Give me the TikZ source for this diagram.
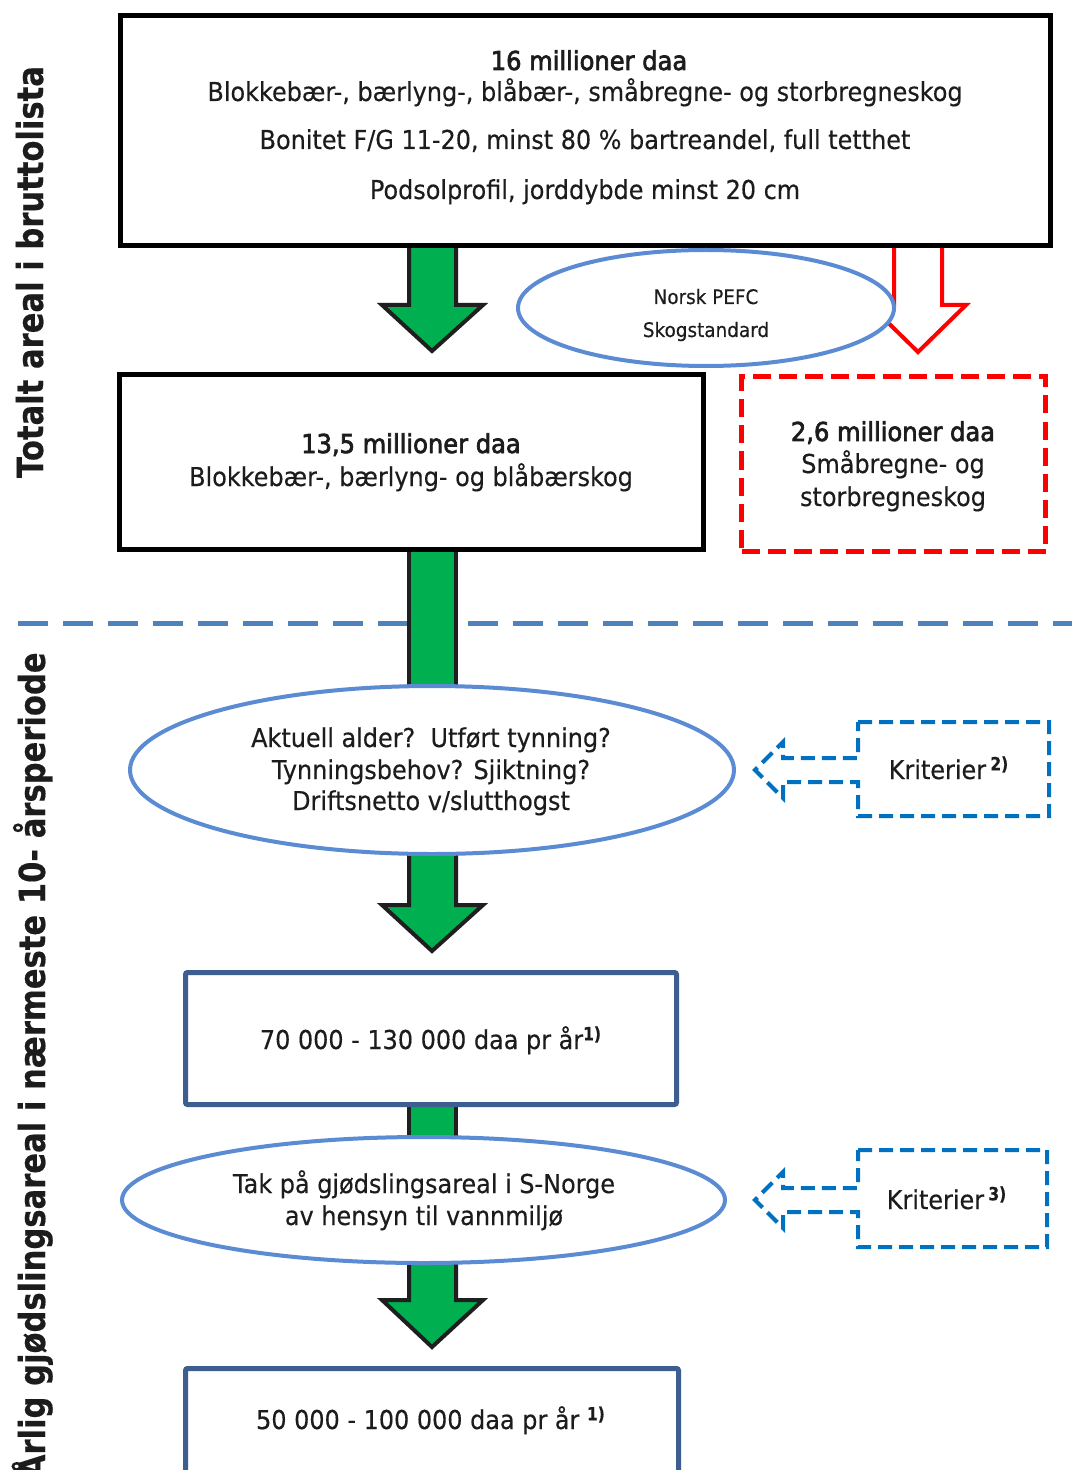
\documentclass[tikz,border=0pt]{standalone}
\usepackage{fontspec}
\setmainfont[FakeStretch=0.92,FakeBold=0.35,BoldFeatures={FakeStretch=0.85}]{DejaVu Sans}
\newfontfamily\semib[FakeStretch=0.93,FakeBold=2.6]{DejaVu Sans}
\usetikzlibrary{shapes.geometric}
\definecolor{gGreen}{HTML}{00B050}
\definecolor{eBlue}{HTML}{5A8BD3}
\definecolor{hBlue}{HTML}{4F81BD}
\definecolor{bBlue}{HTML}{3D5F8F}
\definecolor{kBlue}{HTML}{0070C0}
\definecolor{txtc}{HTML}{1C1C1C}
\begin{document}
\begin{tikzpicture}[x=0.5pt,y=-0.5pt,
  txt/.style={font=\fontsize{13}{15}\selectfont, text=txtc, inner sep=0pt, anchor=base},
  hd/.style={txt, font=\semib\fontsize{13}{15}\selectfont},
  small/.style={txt, font=\fontsize{10}{12}\selectfont},
  side/.style={font=\fontsize{18}{20}\selectfont\bfseries, text=txtc, inner sep=0pt, rotate=90},
  blk/.style={rectangle, draw=black, line width=2.5pt, fill=white, inner sep=0pt},
  bluebox/.style={rectangle, draw=bBlue, line width=2.5pt, fill=white, inner sep=0pt, rounded corners=1pt},
  redbox/.style={rectangle, draw=red, line width=2.5pt, dash pattern=on 9pt off 4pt, inner sep=0pt},
  ell/.style={ellipse, draw=eBlue, line width=2pt, fill=white, inner sep=0pt},
  greenar/.style={fill=gGreen, draw=black!88, line width=2pt, line join=miter},
  redar/.style={fill=white, draw=red, line width=2pt, line join=miter},
  callout/.style={draw=kBlue, line width=2pt, dash pattern=on 7pt off 3.5pt},
  hline/.style={draw=hBlue, line width=2.5pt, dash pattern=on 15pt off 7.5pt}
]
\useasboundingbox (0,0) rectangle (1072,1470);
\clip (0,0) rectangle (1072,1470);
\fill[white] (0,0) rectangle (1072,1470);

% separator line
\coordinate (hl1) at (18,623);
\coordinate (hl2) at (1072,623);
\draw[hline] (hl1) -- (hl2);

% green arrows and bars (drawn first, covered at ends by boxes/ellipses)
\draw[greenar] (409,240) -- (409,305) -- (382,305) -- (432,351) -- (483,305) -- (456,305) -- (456,240) -- cycle;
\draw[greenar] (409,548) rectangle (456,710);
\draw[greenar] (409,840) -- (409,905) -- (382,905) -- (432,951) -- (483,905) -- (456,905) -- (456,840) -- cycle;
\draw[greenar] (409,1100) rectangle (456,1160);
\draw[greenar] (409,1250) -- (409,1300) -- (382,1300) -- (432,1347) -- (483,1300) -- (456,1300) -- (456,1250) -- cycle;

% red hollow arrow
\draw[redar] (894,240) -- (894,305) -- (870,305) -- (918,352) -- (966,305) -- (942,305) -- (942,240) -- cycle;

% boxes and ellipses
\node[blk, minimum width=465pt, minimum height=115pt] (top) at (585,131) {};
\node[ell, minimum width=188pt, minimum height=58pt] (pefc) at (706,308) {};
\node[blk, minimum width=292pt, minimum height=87pt] (b2) at (411,462) {};
\node[redbox, minimum width=152pt, minimum height=87.5pt] (rb) at (893.5,464) {};
\node[ell, minimum width=302pt, minimum height=84pt] (e2) at (432,770) {};
\node[bluebox, minimum width=245.5pt, minimum height=66pt] (b3) at (431,1038.5) {};
\node[ell, minimum width=301.5pt, minimum height=63pt] (e3) at (423.5,1200) {};
\node[bluebox, minimum width=246.5pt, minimum height=70pt] (b4) at (432,1438.5) {};

% criteria callouts
\draw[callout] (858,722) -- (1049,722) -- (1049,816) -- (858,816) -- (858,782) -- (783,782) -- (783,798) -- (755,770) -- (783,742) -- (783,758) -- (858,758) -- cycle;
\draw[callout] (858,1150) -- (1047,1150) -- (1047,1247) -- (858,1247) -- (858,1212) -- (783,1212) -- (783,1228) -- (755,1200) -- (783,1172) -- (783,1188) -- (858,1188) -- cycle;

% texts
\node[hd] (t1a) at (589,70) {16 millioner daa};
\node[txt] (t1b) at (585,101) {Blokkebær-, bærlyng-, blåbær-, småbregne- og storbregneskog};
\node[txt] (t1c) at (585,149) {Bonitet F/G 11-20, minst 80 \% bartreandel, full tetthet};
\node[txt] (t1d) at (585,199) {Podsolprofil, jorddybde minst 20 cm};

\node[small] (tpa) at (706,304) {Norsk PEFC};
\node[small] (tpb) at (706,337) {Skogstandard};

\node[hd] (t2a) at (411,453) {13,5 millioner daa};
\node[txt] (t2b) at (411,486) {Blokkebær-, bærlyng- og blåbærskog};

\node[hd] (tra) at (893,441) {2,6 millioner daa};
\node[txt] (trb) at (893,473) {Småbregne- og};
\node[txt] (trc) at (893,506) {storbregneskog};

\node[txt] (tea) at (431,747) {Aktuell alder?\ \ Utført tynning?};
\node[txt] (teb) at (431,779) {Tynningsbehov? Sjiktning?};
\node[txt] (tec) at (431,810) {Driftsnetto v/slutthogst};

\node[txt] (tk2) at (949,779) {Kriterier\,\textsuperscript{\bfseries 2)}};

\node[txt] (t3) at (431,1049) {70 000 - 130 000 daa pr år\textsuperscript{\bfseries 1)}};

\node[txt] (tfa) at (424,1193) {Tak på gjødslingsareal i S-Norge};
\node[txt] (tfb) at (424,1225) {av hensyn til vannmiljø};

\node[txt] (tk3) at (947,1209) {Kriterier\,\textsuperscript{\bfseries 3)}};

\node[txt] (t4) at (431,1429) {50 000 - 100 000 daa pr år \textsuperscript{\bfseries 1)}};

% side labels
\node[side, anchor=base] (s1) at (43,272) {Totalt areal i bruttolista};
\node[side, anchor=base east] (s2) at (45,652) {Årlig gjødslingsareal i nærmeste 10- årsperiode};
\end{tikzpicture}
\end{document}
